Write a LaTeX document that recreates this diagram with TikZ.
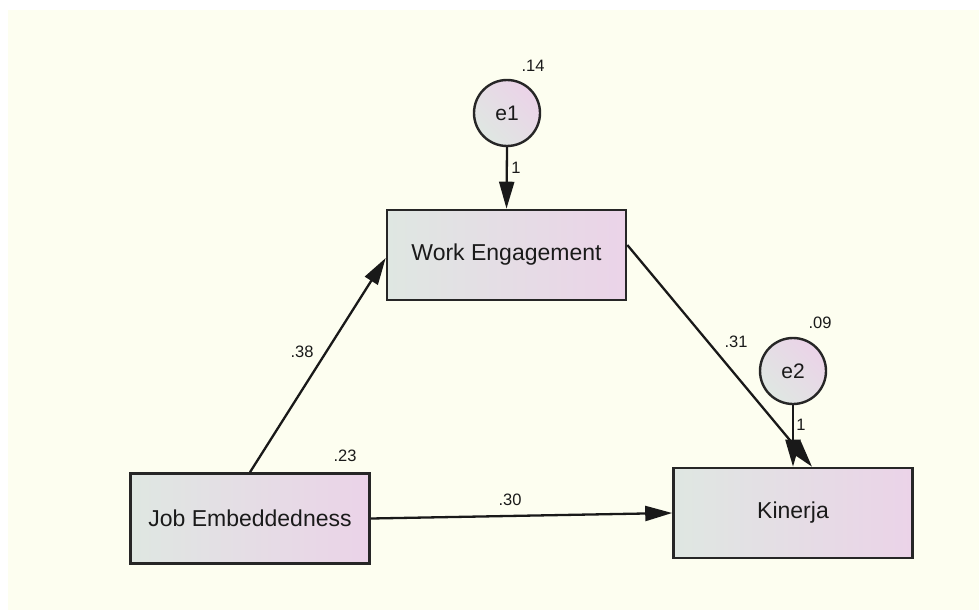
\documentclass[tikz,border=0pt]{standalone}
\usepackage{fontspec}
\setmainfont{Liberation Sans}
\usetikzlibrary{arrows.meta}
\definecolor{bgcream}{HTML}{FDFEF0}
\definecolor{shL}{HTML}{DFE7E2}
\definecolor{shR}{HTML}{EBD3E8}
\definecolor{txt}{HTML}{1A1A1A}
\tikzset{
  varbox/.style={draw=black!85, line width=2.6pt, minimum width=239pt, minimum height=90pt,
    inner sep=0pt, left color=shL, right color=shR, text=txt, font=\fontsize{23}{25}\selectfont},
  errc/.style={circle, draw=black!85, line width=2.4pt, minimum size=66pt, inner sep=0pt,
    shading=axis, left color=shL, right color=shR, shading angle=135, text=txt,
    font=\fontsize{21}{23}\selectfont},
  path/.style={line width=2.3pt, draw=black!90, -{Triangle[length=27pt,width=15pt]}},
  num/.style={text=txt, font=\fontsize{16.5}{18}\selectfont, inner sep=0pt}
}
\begin{document}
\begin{tikzpicture}[x=1pt,y=-1pt]
\fill[white] (0,0) rectangle (979,610);
\fill[bgcream] (8,10) rectangle (979,610);
\useasboundingbox (0,0) rectangle (979,610);

\node[varbox] (WE) at (506.5,255) {Work Engagement};
\node[varbox] (JE) at (250,518.5) {Job Embeddedness};
\node[varbox] (K) at (793,513) {Kinerja};
\node[errc] (e1) at (507,113) {e1};
\node[errc] (e2) at (793,371) {e2};

\draw[path] (e1.south) -- (WE.north);
\draw[path] (e2.south) -- (K.north);
\draw[path] (JE.north) -- ([yshift=-3pt]WE.west);
\draw[path] (JE.east) -- (K.west);
\draw[path] ([yshift=10pt]WE.east) -- ([xshift=19pt]K.north);

\node[num] (l14) at (533,66) {.14};
\node[num] (l1a) at (516,168) {1};
\node[num] (l09) at (820,323) {.09};
\node[num] (l1b) at (801,425) {1};
\node[num] (l31) at (736,342) {.31};
\node[num] (l38) at (302,352) {.38};
\node[num] (l23) at (345,456) {.23};
\node[num] (l30) at (510,500) {.30};
\end{tikzpicture}
\end{document}
